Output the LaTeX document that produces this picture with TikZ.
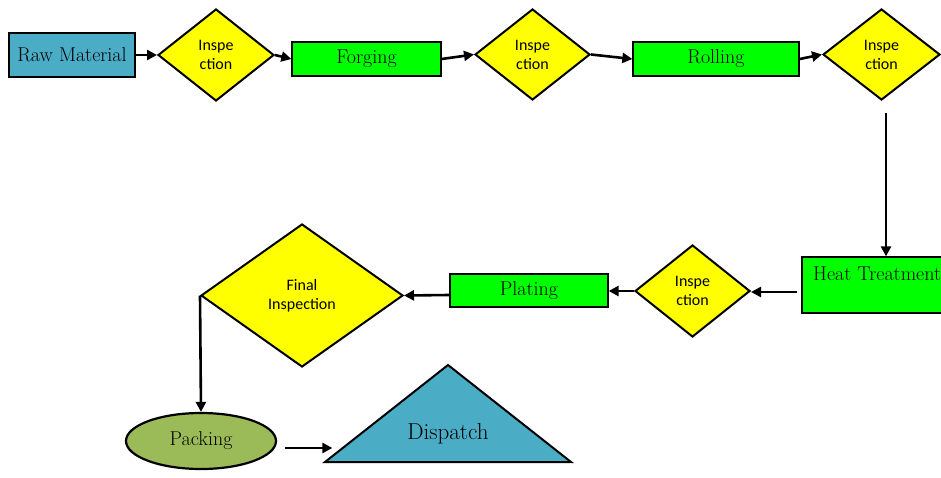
\documentclass[tikz,border=0pt]{standalone}
\usepackage{fontspec}
\newfontfamily\calibri{Carlito}
\usetikzlibrary{shapes.geometric,arrows.meta,calc}
\definecolor{teal}{HTML}{4BACC6}
\definecolor{brightgreen}{HTML}{00FF00}
\definecolor{yel}{HTML}{FFFF00}
\definecolor{olive}{HTML}{9BBB59}
\tikzset{
  procbox/.style={draw=black, line width=1.3pt, fill=brightgreen, inner sep=0pt, font=\fontsize{20}{22}\selectfont},
  insp/.style={draw=black, line width=2pt, fill=yel, shape=diamond, inner sep=0pt, align=center,
     font=\calibri\fontsize{16}{19}\selectfont},
  conn/.style={line width=2.6pt, -{Triangle[length=10pt,width=10pt]}},
}
\begin{document}
\begin{tikzpicture}[x=1pt,y=-1pt]
\useasboundingbox (0,0) rectangle (941,478);
\begin{scope}
\clip (0,0) rectangle (941,478);
% top row
\node[procbox, fill=teal, minimum width=126pt, minimum height=44pt] (raw) at (72,55) {Raw Material};
\node[insp, minimum width=116pt, minimum height=92pt] (d1) at (216,55) {Inspe\\ction};
\node[procbox, minimum width=149pt, minimum height=34pt] (forge) at (366.5,59) {Forging};
\node[insp, minimum width=115pt, minimum height=91pt] (d2) at (532.5,54.5) {Inspe\\ction};
\node[procbox, minimum width=166pt, minimum height=34pt] (roll) at (716,59) {Rolling};
\node[insp, minimum width=117pt, minimum height=91pt] (d3) at (881.5,54.5) {Inspe\\ction};
% heat treatment
\node[procbox, minimum width=158pt, minimum height=56pt] (ht) at (881,285) {};
\node[font=\fontsize{20}{22}\selectfont, inner sep=0pt, anchor=west] (htlabel) at (813,274) {Heat Treatment};
% middle row
\node[insp, minimum width=115pt, minimum height=92pt] (d4) at (692.5,291) {Inspe\\ction};
\node[procbox, minimum width=158pt, minimum height=33pt] (plate) at (529,290.5) {Plating};
\node[insp, minimum width=202pt, minimum height=143pt] (fin) at (302,295.5) {Final\\Inspection};
% bottom
\node[draw=black, line width=2.2pt, fill=olive, ellipse, minimum width=150pt, minimum height=56pt,
      inner sep=0pt, font=\fontsize{20}{22}\selectfont] (pack) at (201,441) {Packing};
\coordinate (tA) at (448,365);
\coordinate (tL) at (325,462);
\coordinate (tR) at (571,462);
\draw[line width=2pt, fill=teal, line join=miter] (tA) -- (tR) -- (tL) -- cycle;
\node[font=\fontsize{23}{25}\selectfont, inner sep=0pt] (disp) at (448,434) {Dispatch};
% connectors
\draw[conn] (raw.east) -- (d1.west);
\draw[conn] (d1.east) -- (forge.west);
\draw[conn] (forge.east) -- (d2.west);
\draw[conn] (d2.east) -- (roll.west);
\draw[conn] (roll.east) -- (d3.west);
\coordinate (dstart) at ($(d3.south)+(4.5,12)$);
\draw[conn] (dstart) -- (dstart |- ht.north);
\coordinate (htin) at ($(ht.west)+(-4,7)$);
\draw[conn] (htin) -- (htin -| d4.east);
\draw[conn] (d4.west) -- (d4.west -| plate.east);
\draw[conn] ($(plate.west)+(0,4.5)$) -- (fin.east);
\draw[conn] (fin.west) -- (pack.north);
\coordinate (pout) at ($(pack.east)+(8,7)$);
\coordinate (tin) at ($(tL)!0.06!(tA)$);
\draw[conn] (pout) -- (pout -| tin);
\end{scope}
\end{tikzpicture}
\end{document}
